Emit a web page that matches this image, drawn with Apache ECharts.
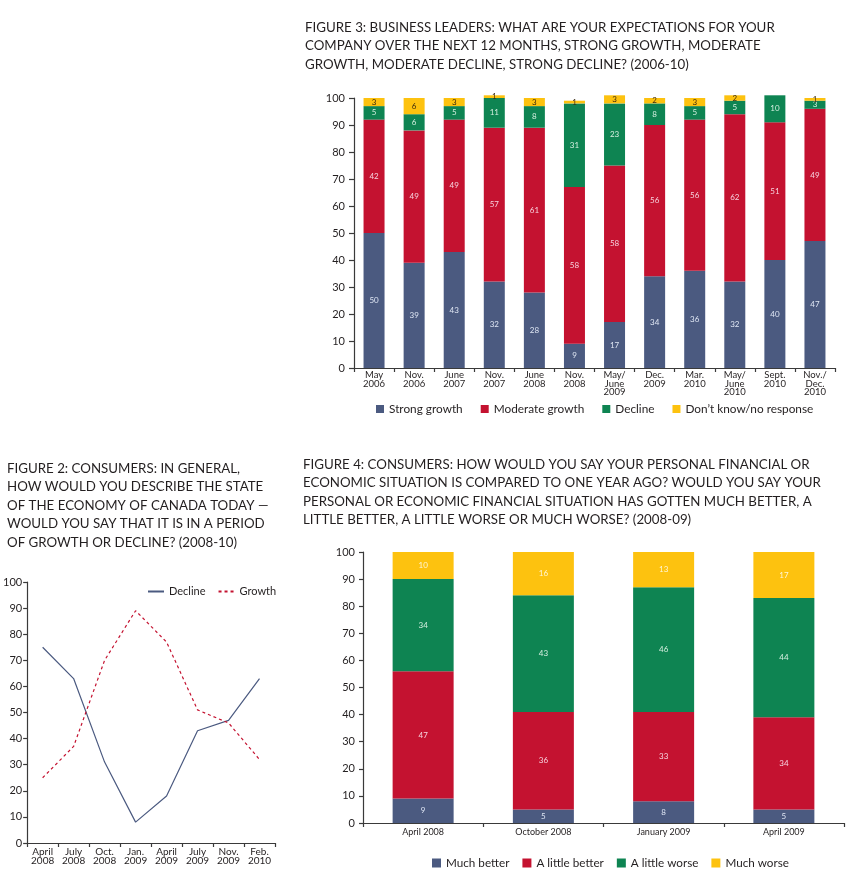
<!DOCTYPE html>
<html><head><meta charset="utf-8">
<script src="https://cdn.jsdelivr.net/npm/echarts@6/dist/echarts.min.js"></script>
<style>
html,body{margin:0;padding:0;background:#fff;width:863px;height:875px;overflow:hidden}
.c{position:absolute;left:0;top:0;width:863px;height:875px}
</style>
</head><body>
<div id="c3" class="c"></div><div id="c2" class="c"></div><div id="c4" class="c"></div>
<script>
// ---------- Figure 3 data ----------
const fig3Categories = ['May\n2006','Nov.\n2006','June\n2007','Nov.\n2007','June\n2008','Nov.\n2008','May/\nJune\n2009','Dec.\n2009','Mar.\n2010','May/\nJune\n2010','Sept.\n2010','Nov./\nDec.\n2010'];
const fig3StrongGrowth   = [50,39,43,32,28, 9,17,34,36,32,40,47];
const fig3ModerateGrowth = [42,49,49,57,61,58,58,56,56,62,51,49];
const fig3Decline        = [ 5, 6, 5,11, 8,31,23, 8, 5, 5,10, 3];
const fig3DontKnow       = [ 3, 6, 3, 1, 3, 1, 3, 2, 3, 2,null, 1];

// ---------- Figure 2 data ----------
const fig2Categories = ['April\n2008','July\n2008','Oct.\n2008','Jan.\n2009','April\n2009','July\n2009','Nov.\n2009','Feb.\n2010'];
const fig2Decline = [75,63,31, 8,18,43,47,63];
const fig2Growth  = [25,37,70,89,77,51,46,32];

// ---------- Figure 4 data ----------
const fig4Categories = ['April 2008','October 2008','January 2009','April 2009'];
const fig4MuchBetter   = [ 9, 5, 8, 5];
const fig4LittleBetter = [47,36,33,34];
const fig4LittleWorse  = [34,43,46,44];
const fig4MuchWorse    = [10,16,13,17];

const NAVY='#4B5A80', RED='#C41230', GREEN='#0E8452', YELLOW='#FDC20F';
const FONT='Lato, "Open Sans", sans-serif';
const TXT='#231f20';
const AX='#3a3a3a';

function titleStyle(){ return {fontFamily:FONT,fontSize:13.3,fontWeight:'normal',lineHeight:18.5,color:TXT}; }
function valueAxis(margin,tickLen){
  return {type:'value',min:0,max:100,interval:10,
    axisLine:{show:true,lineStyle:{color:AX,width:1.2}},
    axisTick:{show:true,length:tickLen,lineStyle:{color:AX,width:1.2}},
    splitLine:{show:false},
    axisLabel:{fontFamily:FONT,fontSize:11,color:TXT,margin:margin}};
}
function barSeries(name,data,color,labelColor,barWidth,fontSize){
  return {name,type:'bar',stack:'s',data,barWidth,clip:false,
    itemStyle:{color},
    label:{show:true,position:'inside',fontFamily:FONT,fontSize:fontSize,color:labelColor,
      formatter:p=> (p.value==null||p.value===0)?'':String(p.value)},
    emphasis:{disabled:true}};
}

// ---------- Figure 3 ----------
const c3 = echarts.init(document.getElementById('c3'),null,{renderer:'canvas'});
c3.setOption({
  animation:false,
  title:{text:'FIGURE 3: BUSINESS LEADERS: WHAT ARE YOUR EXPECTATIONS FOR YOUR\nCOMPANY OVER THE NEXT 12 MONTHS, STRONG GROWTH, MODERATE\nGROWTH, MODERATE DECLINE, STRONG DECLINE? (2006-10)',
    left:305,top:18,padding:0,textStyle:titleStyle()},
  legend:{left:376,top:403,padding:0,itemWidth:8,itemHeight:8,itemGap:18,icon:'rect',
    textStyle:{fontFamily:FONT,fontSize:11.8,color:TXT},
    data:['Strong growth','Moderate growth','Decline','Don\u2019t know/no response']},
  grid:{left:354,right:28,top:98,bottom:507,containLabel:false},
  xAxis:{type:'category',data:fig3Categories,
    axisLine:{lineStyle:{color:AX,width:1.2}},
    axisTick:{show:true,length:4,lineStyle:{color:AX,width:1.2}},
    axisLabel:{fontFamily:FONT,fontSize:9.5,lineHeight:8.5,color:TXT,margin:3,interval:0}},
  yAxis:valueAxis(9,5),
  series:[
    barSeries('Strong growth',fig3StrongGrowth,NAVY,'#dfe6f3',21,8),
    barSeries('Moderate growth',fig3ModerateGrowth,RED,'#f6d3de',21,8),
    barSeries('Decline',fig3Decline,GREEN,'#d6efe0',21,8),
    barSeries('Don\u2019t know/no response',fig3DontKnow,YELLOW,'#3a2a10',21,8)
  ]
});

// ---------- Figure 2 ----------
const c2 = echarts.init(document.getElementById('c2'),null,{renderer:'canvas'});
c2.setOption({
  animation:false,
  title:{text:'FIGURE 2: CONSUMERS: IN GENERAL,\nHOW WOULD YOU DESCRIBE THE STATE\nOF THE ECONOMY OF CANADA TODAY \u2014\nWOULD YOU SAY THAT IT IS IN A PERIOD\nOF GROWTH OR DECLINE? (2008-10)',
    left:7,top:459,padding:0,textStyle:titleStyle()},
  legend:{left:147,top:586,padding:0,itemWidth:16,itemHeight:10,itemGap:12,
    itemStyle:{opacity:0},
    textStyle:{fontFamily:FONT,fontSize:11,color:TXT},data:['Decline','Growth']},
  grid:{left:26,right:588,top:582,bottom:32},
  xAxis:{type:'category',data:fig2Categories,boundaryGap:true,
    axisLine:{lineStyle:{color:AX,width:1.2}},
    axisTick:{show:true,length:4,lineStyle:{color:AX,width:1.2}},
    axisLabel:{fontFamily:FONT,fontSize:10,lineHeight:9.5,color:TXT,margin:4,interval:0}},
  yAxis:valueAxis(5,4),
  series:[
    {name:'Decline',type:'line',data:fig2Decline,symbol:'none',showSymbol:false,
      lineStyle:{color:NAVY,width:1.2},itemStyle:{color:NAVY},emphasis:{disabled:true}},
    {name:'Growth',type:'line',data:fig2Growth,symbol:'none',showSymbol:false,
      lineStyle:{color:RED,width:1.2,type:[3,3]},itemStyle:{color:RED},emphasis:{disabled:true}}
  ]
});

// ---------- Figure 4 ----------
const c4 = echarts.init(document.getElementById('c4'),null,{renderer:'canvas'});
c4.setOption({
  animation:false,
  title:{text:'FIGURE 4: CONSUMERS: HOW WOULD YOU SAY YOUR PERSONAL FINANCIAL OR\nECONOMIC SITUATION IS COMPARED TO ONE YEAR AGO? WOULD YOU SAY YOUR\nPERSONAL OR ECONOMIC FINANCIAL SITUATION HAS GOTTEN MUCH BETTER, A\nLITTLE BETTER, A LITTLE WORSE OR MUCH WORSE? (2008-09)',
    left:303,top:455,padding:0,textStyle:titleStyle()},
  legend:{left:432,top:857,padding:0,itemWidth:9,itemHeight:9,itemGap:13,icon:'rect',
    textStyle:{fontFamily:FONT,fontSize:11.7,color:TXT},
    data:['Much better','A little better','A little worse','Much worse']},
  grid:{left:363,right:19,top:552,bottom:52},
  xAxis:{type:'category',data:fig4Categories,
    axisLine:{lineStyle:{color:AX,width:1.2}},
    axisTick:{show:true,length:4,lineStyle:{color:AX,width:1.2}},
    axisLabel:{fontFamily:FONT,fontSize:9,color:TXT,margin:5,interval:0}},
  yAxis:valueAxis(8,4),
  series:[
    barSeries('Much better',fig4MuchBetter,NAVY,'#dfe6f3',61,8),
    barSeries('A little better',fig4LittleBetter,RED,'#f6d3de',61,8),
    barSeries('A little worse',fig4LittleWorse,GREEN,'#d6efe0',61,8),
    barSeries('Much worse',fig4MuchWorse,YELLOW,'#fff6d6',61,8)
  ]
});
</script>
</body></html>
